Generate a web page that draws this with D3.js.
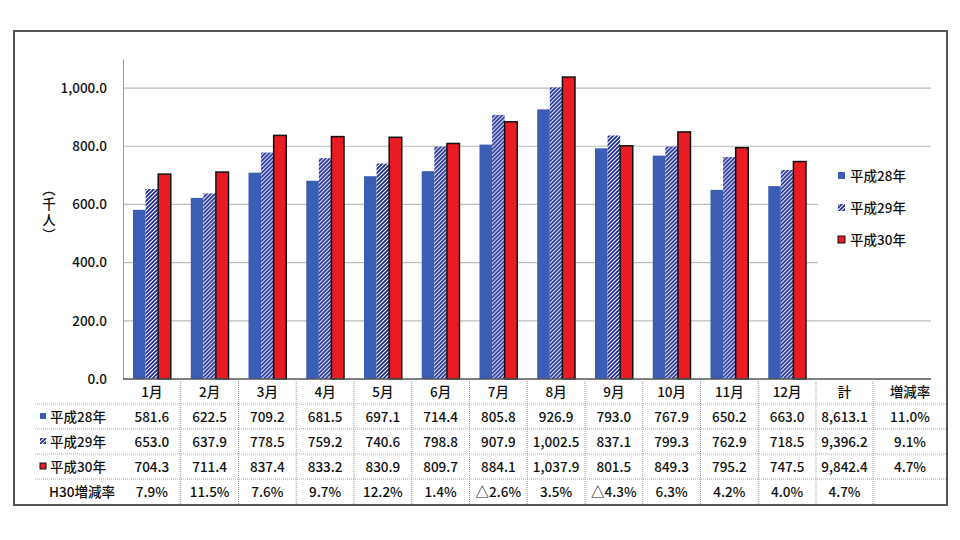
<!DOCTYPE html>
<html>
<head>
<meta charset="utf-8">
<script src="https://cdn.jsdelivr.net/npm/d3@7"></script>
<style>
  body { margin: 0; background: #fff; }
  svg { font-family: "Noto Sans CJK JP", "Noto Sans", sans-serif; font-weight: 500; }
</style>
</head>
<body>
<svg id="chart" width="960" height="540"></svg>
<script>
var months = ["1月", "2月", "3月", "4月", "5月", "6月", "7月", "8月", "9月", "10月", "11月", "12月"];
var seriesNames = ["平成28年", "平成29年", "平成30年"];
var h28 = [581.6, 622.5, 709.2, 681.5, 697.1, 714.4, 805.8, 926.9, 793.0, 767.9, 650.2, 663.0];
var h29 = [653.0, 637.9, 778.5, 759.2, 740.6, 798.8, 907.9, 1002.5, 837.1, 799.3, 762.9, 718.5];
var h30 = [704.3, 711.4, 837.4, 833.2, 830.9, 809.7, 884.1, 1037.9, 801.5, 849.3, 795.2, 747.5];
var totals = [8613.1, 9396.2, 9842.4];
var yearRates = ["11.0%", "9.1%", "4.7%"];
var h30Rates = ["7.9%", "11.5%", "7.6%", "9.7%", "12.2%", "1.4%", "△2.6%", "3.5%", "△4.3%", "6.3%", "4.2%", "4.0%"];
var h30TotalRate = "4.7%";
var yTicks = [0, 200, 400, 600, 800, 1000];

var series = [h28, h29, h30];
var fmt = d3.format(",.1f");

var svg = d3.select("#chart");

// hatch pattern for 平成29年
var defs = svg.append("defs");
var pat = defs.append("pattern")
    .attr("id", "hatch")
    .attr("patternUnits", "userSpaceOnUse")
    .attr("width", 4)
    .attr("height", 4);
pat.append("rect").attr("width", 4).attr("height", 4).attr("fill", "#fff");
pat.append("path")
    .attr("d", "M-1,1 l2,-2 M0,4 l4,-4 M3,5 l2,-2")
    .attr("stroke", "#1c2c94")
    .attr("stroke-width", 1.8);

var styles = [
  {fill: "#3b5db3", stroke: "none", sw: 0},
  {fill: "url(#hatch)", stroke: "none", sw: 0},
  {fill: "#e81c22", stroke: "#111", sw: 1.5}
];

var plotLeft = 123, plotRight = 931, plotTop = 59, base = 379;
var monthsRight = 816;

var x = d3.scaleBand().domain(months).range([plotLeft, monthsRight]);
var x1 = d3.scaleBand().domain([0, 1, 2]).range([10, x.bandwidth() - 10]);
var y = d3.scaleLinear().domain([0, 1100]).range([base, plotTop]);

// outer frame
svg.append("rect")
    .attr("x", 14).attr("y", 31).attr("width", 933).attr("height", 474)
    .attr("fill", "none").attr("stroke", "#555").attr("stroke-width", 2);

// gridlines
svg.append("g").selectAll("line")
  .data(yTicks.slice(1))
  .enter().append("line")
    .attr("x1", plotLeft).attr("x2", plotRight)
    .attr("y1", function(d) { return y(d); })
    .attr("y2", function(d) { return y(d); })
    .attr("stroke", "#bdbdbd").attr("stroke-width", 1.2);

// y axis
var yAxis = svg.append("g")
    .attr("transform", "translate(" + plotLeft + ",0)")
    .call(d3.axisLeft(y).tickValues(yTicks).tickFormat(fmt).tickSize(0).tickPadding(16));
yAxis.select(".domain").attr("stroke", "#999");
yAxis.selectAll("text")
    .attr("font-size", 13.5).attr("fill", "#111")
    .attr("font-family", "\"Noto Sans CJK JP\", sans-serif");

// y label, vertical text
svg.append("text")
    .attr("x", 49).attr("y", 213)
    .attr("writing-mode", "vertical-rl")
    .attr("text-anchor", "middle")
    .attr("font-size", 13.5)
    .attr("letter-spacing", 2)
    .attr("fill", "#111")
    .text("（千人）");

// legend box (covers grid)
svg.append("rect")
    .attr("x", 818).attr("y", 158).attr("width", 113).attr("height", 112)
    .attr("fill", "#fff");
var leg = svg.append("g").selectAll("g")
  .data(seriesNames)
  .enter().append("g")
    .attr("transform", function(d, i) { return "translate(838," + (176 + i * 32) + ")"; });
leg.append("rect")
    .attr("x", 0).attr("y", -4).attr("width", 7).attr("height", 7)
    .attr("fill", function(d, i) { return styles[i].fill; })
    .attr("stroke", function(d, i) { return styles[i].stroke; })
    .attr("stroke-width", 1);
leg.append("text")
    .attr("x", 12).attr("y", 5)
    .attr("font-size", 13.5).attr("fill", "#111")
    .text(function(d) { return d; });

// bars
var groups = svg.append("g").selectAll("g")
  .data(months)
  .enter().append("g")
    .attr("transform", function(d) { return "translate(" + x(d) + ",0)"; });
groups.selectAll("rect")
  .data(function(d, mi) { return series.map(function(s, si) { return {si: si, v: s[mi]}; }); })
  .enter().append("rect")
    .attr("x", function(d) { return x1(d.si); })
    .attr("width", x1.bandwidth())
    .attr("y", function(d) { return y(d.v); })
    .attr("height", function(d) { return base - y(d.v); })
    .attr("fill", function(d) { return styles[d.si].fill; })
    .attr("stroke", function(d) { return styles[d.si].stroke; })
    .attr("stroke-width", function(d) { return styles[d.si].sw; });

// baseline
svg.append("line")
    .attr("x1", plotLeft).attr("x2", plotRight).attr("y1", base).attr("y2", base)
    .attr("stroke", "#555").attr("stroke-width", 1.5);

// data table
var rowH = 25;
var colSum = {x0: monthsRight, x1: 873};
var colRate = {x0: 873, x1: 947};
var table = svg.append("g").attr("font-size", 13.5).attr("fill", "#111");

// horizontal row lines
table.selectAll("line.h")
  .data([1, 2, 3, 4])
  .enter().append("line")
    .attr("x1", 35).attr("x2", 947)
    .attr("y1", function(d) { return base + d * rowH; })
    .attr("y2", function(d) { return base + d * rowH; })
    .attr("stroke", "#aaa").attr("stroke-dasharray", "1,1");

// vertical column lines
var vLines = months.slice(1).map(function(m) { return x(m); }).concat([colSum.x0, colRate.x0]);
table.selectAll("line.v")
  .data(vLines)
  .enter().append("line")
    .attr("x1", function(d) { return d; }).attr("x2", function(d) { return d; })
    .attr("y1", base).attr("y2", 505)
    .attr("stroke", "#999").attr("stroke-dasharray", "1,1");

function cellText(cx, row, txt) {
  table.append("text")
    .attr("x", cx).attr("y", base + row * rowH + 17.5)
    .attr("text-anchor", "middle")
    .text(txt);
}
var sumCx = (colSum.x0 + colSum.x1) / 2;
var rateCx = (colRate.x0 + colRate.x1) / 2;

// header
months.forEach(function(m) { cellText(x(m) + x.bandwidth() / 2, 0, m); });
cellText(sumCx, 0, "計");
cellText(rateCx, 0, "増減率");

// series rows
series.forEach(function(s, si) {
  var r = si + 1;
  table.append("rect")
    .attr("x", 40).attr("y", base + r * rowH + 9).attr("width", 6).attr("height", 6)
    .attr("fill", styles[si].fill)
    .attr("stroke", styles[si].stroke).attr("stroke-width", 1);
  table.append("text")
    .attr("x", 50).attr("y", base + r * rowH + 17.5)
    .text(seriesNames[si]);
  s.forEach(function(v, mi) { cellText(x(months[mi]) + x.bandwidth() / 2, r, fmt(v)); });
  cellText(sumCx, r, fmt(totals[si]));
  cellText(rateCx, r, yearRates[si]);
});

// H30 rate row
table.append("text")
  .attr("x", 49).attr("y", base + 4 * rowH + 17.5)
  .text("H30増減率");
h30Rates.forEach(function(v, mi) { cellText(x(months[mi]) + x.bandwidth() / 2, 4, v); });
cellText(sumCx, 4, h30TotalRate);
</script>
</body>
</html>
